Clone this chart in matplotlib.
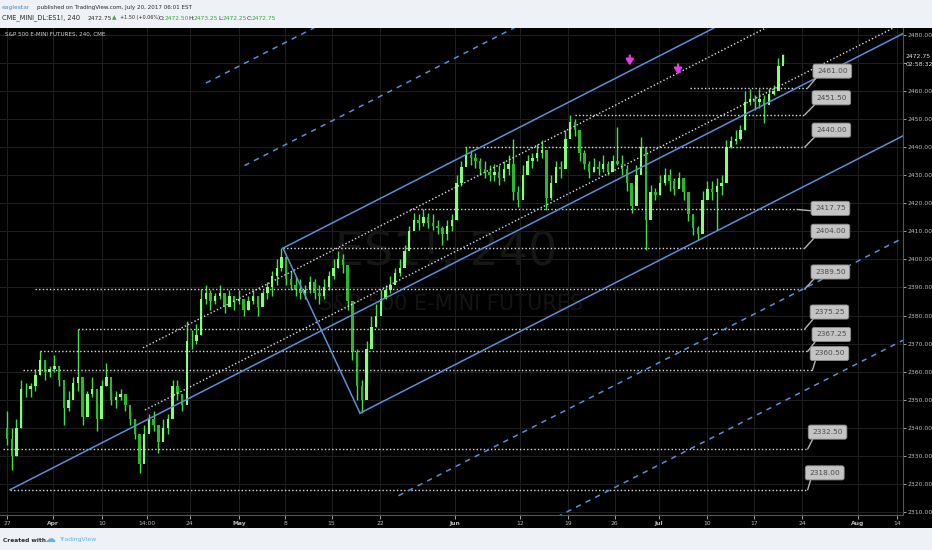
import os
os.environ["MPLBACKEND"] = "Agg"

import numpy as np
import matplotlib.pyplot as plt
from matplotlib.patches import Rectangle

plt.rcParams['font.family'] = ['DejaVu Sans']

# --- data (x in trading days since Mar 27, 2017; half-day bars) ---
closes = [2336, 2330, 2340, 2354, 2354, 2355, 2359, 2364, 2360, 2361,
          2362, 2357, 2347, 2350, 2356, 2358, 2344, 2352, 2354, 2343,
          2355, 2358, 2350, 2351, 2352, 2348, 2343, 2338, 2327, 2338,
          2343, 2341, 2335, 2340, 2343, 2355, 2352, 2348, 2371, 2371,
          2373, 2386, 2388, 2385, 2387, 2388, 2383, 2387, 2385, 2386,
          2382, 2385, 2387, 2383, 2388, 2390, 2394, 2397, 2401, 2393,
          2391, 2389, 2388, 2389, 2392, 2388, 2387, 2390, 2394, 2397,
          2400, 2398, 2385, 2367, 2355, 2350, 2368, 2376, 2380, 2386,
          2389, 2391, 2395, 2397, 2403, 2410, 2414, 2413, 2415, 2413,
          2412, 2411, 2409, 2412, 2414, 2427, 2433, 2437, 2436, 2435,
          2432, 2431, 2430, 2431, 2429, 2432, 2434, 2424, 2421, 2430,
          2435, 2436, 2438, 2439, 2422, 2427, 2433, 2432, 2443, 2449,
          2446, 2438, 2434, 2431, 2433, 2432, 2434, 2431, 2435, 2434,
          2432, 2427, 2419, 2430, 2440, 2414, 2424, 2423, 2427, 2430,
          2428, 2425, 2429, 2424, 2416, 2411, 2409, 2421, 2425, 2424,
          2426, 2427, 2440, 2442, 2443, 2446, 2456, 2457, 2456, 2457,
          2455, 2459, 2460, 2469, 2472.75]
highs = [2346, 2340, 2343, 2357, 2356, 2356, 2361, 2367.25, 2364, 2362,
         2366, 2361, 2355, 2353, 2358, 2375.25, 2355, 2353, 2358, 2349,
         2357, 2363, 2353, 2353, 2354, 2352, 2346, 2343, 2332, 2341,
         2345, 2346, 2339, 2343, 2345, 2357, 2357, 2352, 2378, 2375,
         2377, 2389.5, 2391, 2389, 2388, 2391, 2387, 2389, 2387, 2389,
         2386, 2387, 2389, 2387, 2389, 2392, 2396, 2400, 2404, 2398,
         2396, 2394, 2393, 2391, 2394, 2393, 2391, 2393, 2396, 2400,
         2403, 2402, 2396, 2378, 2368, 2357, 2371, 2380, 2384, 2389,
         2391, 2394, 2397, 2400, 2405, 2412, 2416.5, 2416, 2417.75, 2416.5,
         2416, 2414, 2412, 2414, 2416, 2430, 2435, 2440, 2439, 2438,
         2436, 2435, 2433.5, 2434, 2433.5, 2435, 2437, 2443, 2426, 2433.5,
         2437, 2438, 2441, 2442.5, 2432, 2430, 2435, 2435, 2446, 2451.5,
         2450, 2444, 2439, 2435, 2436, 2435, 2437, 2435, 2437, 2447,
         2437, 2433.5, 2424.5, 2433.5, 2443.5, 2439, 2426.5, 2425.5, 2430, 2432.5,
         2432, 2429, 2431, 2428, 2421, 2416, 2412, 2424.5, 2428, 2428,
         2429, 2430, 2442.5, 2444, 2446, 2448, 2460, 2460.5, 2458.5, 2460.5,
         2458.5, 2461, 2462, 2471.5, 2473.25]
lows = [2334, 2325, 2330, 2340, 2351, 2351, 2353, 2359, 2357, 2358,
        2360, 2355, 2341, 2346, 2351, 2353, 2341, 2346, 2351, 2339,
        2348, 2355, 2348, 2347, 2350, 2346, 2341, 2336, 2324, 2330,
        2339, 2339, 2331, 2336, 2338, 2351, 2350, 2346, 2368, 2368,
        2370, 2373, 2384, 2382, 2384, 2386, 2381, 2384, 2382, 2384,
        2380, 2382, 2384, 2380, 2384, 2386, 2387, 2391, 2396, 2391,
        2389, 2387, 2386, 2386, 2388, 2386, 2384, 2386, 2389, 2393,
        2397, 2395, 2382, 2364, 2350, 2345.25, 2355, 2371, 2376, 2382,
        2386, 2388, 2392, 2394, 2399, 2407, 2411, 2410.5, 2412, 2411,
        2410.5, 2409, 2405, 2407, 2410, 2414, 2426, 2433.5, 2433.5, 2432.5,
        2430, 2429, 2428, 2428, 2426.5, 2428, 2430, 2421, 2418.5, 2423,
        2432, 2432.5, 2435, 2436, 2417.5, 2421, 2430, 2429, 2433.5, 2446,
        2444, 2435, 2432, 2429, 2431, 2430, 2431, 2430, 2431.5, 2433.5,
        2430, 2424.5, 2416.5, 2423, 2437, 2403.5, 2419.5, 2421, 2423, 2426.5,
        2424.5, 2423, 2425.5, 2421, 2413.5, 2408.5, 2407, 2416, 2422, 2421,
        2410.5, 2423, 2428, 2439.5, 2441, 2442.5, 2446, 2455, 2453, 2454,
        2448.5, 2456.5, 2458.5, 2461, 2470]
first_open = 2340

# horizontal levels: price, start day, end day, callout day
levels = [2461.00, 2451.50, 2440.00, 2417.75, 2404.00, 2389.50,
          2375.25, 2367.25, 2360.50, 2332.50, 2318.00]
level_start = [72.2, 60.0, 48.4, 42.6, 29.2, 3.0, 7.5, 3.5, 1.7, -0.4, 0.3]
level_end = [84.6, 84.3, 84.3, 83.5, 84.3, 84.3, 84.3, 84.6, 85.1, 84.6, 84.6]
label_day = [87.2, 87.1, 87.1, 87.0, 87.0, 87.0, 86.9, 87.1, 86.9, 86.7, 86.4]

# pitchfork anchors (day, price)
fork_p1 = (0.32, 2318.0)
fork_p2 = (29.16, 2404.0)
fork_p3 = (37.3, 2345.25)

# white dotted trend lines: (day, price) -> (day, price)
trend_lines = [((14.37, 2368.5), (71.11, 2466.7)),
               ((14.58, 2346.4), (71.11, 2443.6))]

# magenta arrows
arrow_days = [65.8, 70.9]
arrow_tips = [2469.0, 2465.8]

# axes
xtick_days = [0, 4.9, 10.0, 14.8, 19.3, 24.5, 29.4, 34.3, 39.4, 47.3,
              54.2, 59.3, 64.2, 68.9, 74.0, 78.9, 84.0, 89.9, 94.0]
xtick_labels = ['27', 'Apr', '10', '14:00', '24', 'May', '8', '15', '22', 'Jun',
                '12', '19', '26', 'Jul', '10', '17', '24', 'Aug', '14']
months = {'Apr', 'May', 'Jun', 'Jul', 'Aug'}
ytick_prices = list(range(2310, 2490, 10))
last_price = 2472.75

W, H = 932, 550
fig = plt.figure(figsize=(W / 100, H / 100), dpi=100, facecolor='#eef1f5')
fig.patches.append(Rectangle((0, 1 - 528 / H), 1, 500 / H, transform=fig.transFigure,
                             facecolor='black', edgecolor='none', zorder=-10))
ax = fig.add_axes([0, 35 / H, 903 / W, 487 / H])
ax.set_facecolor('black')
XMIN, XMAX = -0.74, 94.67
ax.set_xlim(XMIN, XMAX)
ax.set_ylim(2309.0, 2482.35)

for s in ['top', 'left']:
    ax.spines[s].set_visible(False)
for s in ['right', 'bottom']:
    ax.spines[s].set_color('#555555')
    ax.spines[s].set_linewidth(0.8)

ax.set_xticks(xtick_days)
ax.set_xticklabels(xtick_labels)
for t in ax.get_xticklabels():
    if t.get_text() in months:
        t.set_fontweight('bold')
ax.yaxis.tick_right()
ax.set_yticks(ytick_prices)
ax.set_yticklabels(['' if p == 2470 else f'{p:.2f}' for p in ytick_prices])
ax.tick_params(axis='x', colors='#bbbbbb', labelsize=4.3, length=3, pad=1.5, width=0.6)
ax.tick_params(axis='y', colors='#bbbbbb', labelsize=4.4, length=2, pad=1.2, width=0.6)
ax.grid(True, color='#1e1e1e', lw=0.8)
ax.set_axisbelow(True)

# watermark
ax.text(0.494, 0.54, 'ES1!, 240', transform=ax.transAxes, ha='center', va='center',
        fontsize=33, color='#161616', zorder=1)
ax.text(0.50, 0.433, 'S&P 500 E-MINI FUTURES', transform=ax.transAxes, ha='center',
        va='center', fontsize=15, color='#141414', zorder=1)

# candles
x = np.arange(len(closes)) * 0.5
c = np.array(closes, dtype=float)
o = np.r_[first_open, c[:-1]]
up = c >= o
ax.vlines(x, lows, highs, colors='#46e046', lw=1.0, zorder=3)
ax.bar(x[up], (c - o)[up], bottom=o[up], width=0.26, color='#86ff78', lw=0, zorder=4)
ax.bar(x[~up], (c - o)[~up], bottom=o[~up], width=0.26, color='#2cb82c', lw=0, zorder=4)

# horizontal levels with callouts
for lvl, x0, x1, lx in zip(levels, level_start, level_end, label_day):
    ax.plot([x0, x1], [lvl, lvl], color='#dddddd', lw=1, ls=(0, (1, 1.6)), zorder=5)
    ly = lvl + (0.4 if lvl == 2417.75 else 6.0)
    ax.annotate(f'{lvl:.2f}', xy=(x1, lvl), xytext=(lx, ly), textcoords='data',
                ha='center', va='center', fontsize=5.3, color='#4d4d4d', zorder=8,
                bbox=dict(boxstyle='round,pad=0.55,rounding_size=0.3', fc='#c4c4c4',
                          ec='#8c8c8c', lw=0.6),
                arrowprops=dict(arrowstyle='-', color='#b5b5b5', lw=1,
                                shrinkA=0, shrinkB=0, relpos=(0.08, 0.0)))

# pitchfork
p1, p2, p3 = np.array(fork_p1), np.array(fork_p2), np.array(fork_p3)
mid = (p2 + p3) / 2
slope = (mid[1] - p1[1]) / (mid[0] - p1[0])
blue = '#5b8fd8'
for k in [-3, -2, -1, 0, 1, 2, 3]:
    start = p1 if k == 0 else mid + k * (p3 - mid)
    y_end = start[1] + slope * (XMAX - start[0])
    ls = '-' if abs(k) <= 1 else (0, (3.5, 3.5))
    ax.plot([start[0], XMAX], [start[1], y_end], color=blue, lw=1.1, ls=ls, zorder=6)
ax.plot([p2[0], p3[0]], [p2[1], p3[1]], color=blue, lw=1.1, zorder=6)

for (a, b) in trend_lines:
    s = (b[1] - a[1]) / (b[0] - a[0])
    ax.plot([a[0], XMAX], [a[1], a[1] + s * (XMAX - a[0])], color='#dddddd', lw=1,
            ls=(0, (1, 1.6)), zorder=5)

for ad, at in zip(arrow_days, arrow_tips):
    ax.annotate('', xy=(ad, at), xytext=(ad, at + 3.6),
                arrowprops=dict(arrowstyle='-|>,head_length=0.35,head_width=0.22',
                                color='#e23ce8', lw=1.6, shrinkA=0, shrinkB=0), zorder=9)


def fpos(px, py):
    return px / W, 1 - py / H


# current price on the scale
fig.text(*fpos(906, 57), f'{last_price:.2f}', fontsize=4.4, color='#e6e6e6', va='center')
fig.text(*fpos(906, 65), '02:58:32', fontsize=4.4, color='#e6e6e6', va='center')

# header
dark, green, tvblue = '#2b2b2b', '#35a835', '#3d8fd1'
fig.text(*fpos(2, 7), 'eaglestar', fontsize=4.3, color=tvblue, va='center')
fig.text(*fpos(37, 7), 'published on TradingView.com, July 20, 2017 06:01 EST',
         fontsize=4.1, color=dark, va='center')
for px, txt, col, fs in [(2, 'CME_MINI_DL:ES1!, 240', dark, 4.8),
                         (88, '2472.75', dark, 4.2),
                         (112, '\u25B2', green, 4.2), (120, '+1.50 (+0.06%)', dark, 3.5),
                         (159, 'O:', dark, 4.2), (165, '2472.50', green, 4.2),
                         (188, 'H:', dark, 4.2), (194, '2473.25', green, 4.2),
                         (218, 'L:', dark, 4.2), (223, '2472.25', green, 4.2),
                         (247, 'C:', dark, 4.2), (252, '2472.75', green, 4.2)]:
    fig.text(*fpos(px, 18), txt, fontsize=fs, color=col, va='center')
fig.text(*fpos(5, 34), 'S&P 500 E-MINI FUTURES, 240, CME', fontsize=4.1, color='#d0d0d0',
         va='center')

# footer
fig.text(*fpos(3, 540), 'Created with', fontsize=4.2, color=dark, fontweight='bold',
         va='center')
fig.text(*fpos(44, 539), '\u2601', fontsize=8, color='#5ab4e5', va='center')
fig.text(*fpos(60, 540), 'TradingView', fontsize=4.4, color='#5ab4e5', va='center')

fig.savefig('out.png', dpi=100, facecolor=fig.get_facecolor())
